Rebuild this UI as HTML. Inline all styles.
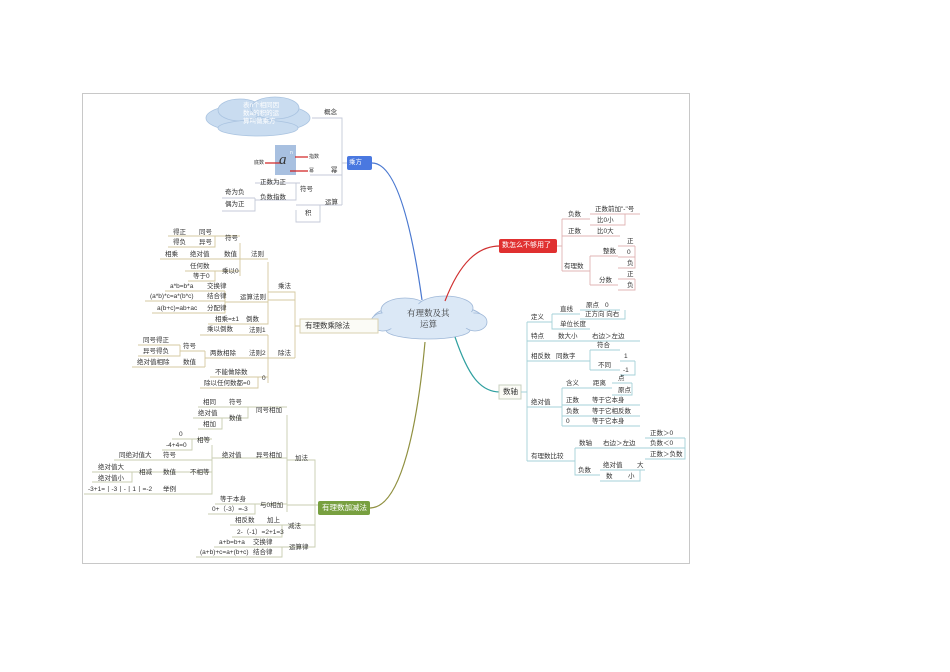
<!DOCTYPE html>
<html><head><meta charset="utf-8">
<style>
html,body{margin:0;padding:0;background:#fff;}
#w{position:relative;width:950px;height:672px;overflow:hidden;font-family:"Liberation Sans","Noto Sans CJK SC",sans-serif;font-size:6.5px;color:#333;}
.t{position:absolute;white-space:nowrap;line-height:8px;transform:translateY(-4px);}
svg{position:absolute;left:0;top:0;}
</style></head><body><div id="w">
<svg width="950" height="672">
<rect x="82.5" y="93.5" width="607" height="470" fill="none" stroke="#c8c8c8" stroke-width="1"/>
<g fill="#c9dcf0" stroke="#a9c3e0" stroke-width="0.8">
<ellipse cx="258" cy="118" rx="52" ry="15"/><ellipse cx="240" cy="110" rx="22" ry="11"/><ellipse cx="275" cy="108" rx="24" ry="11"/><ellipse cx="258" cy="128" rx="40" ry="8"/>
</g>
<g fill="#dbe8f6" stroke="#9fb8d8" stroke-width="0.8">
<ellipse cx="428" cy="319" rx="55" ry="16"/><ellipse cx="405" cy="310" rx="24" ry="12"/><ellipse cx="445" cy="308" rx="28" ry="12"/><ellipse cx="428" cy="330" rx="42" ry="9"/><ellipse cx="383" cy="322" rx="12" ry="9"/><ellipse cx="475" cy="322" rx="12" ry="9"/>
</g>
<g fill="#dbe8f6"><ellipse cx="428" cy="319" rx="50" ry="14"/><ellipse cx="405" cy="312" rx="22" ry="10"/><ellipse cx="445" cy="310" rx="26" ry="10"/></g>
<path d="M372,163 C400,163 415,250 422,300" fill="none" stroke="#4a78d0" stroke-width="1.2"/>
<path d="M445,301 C460,262 478,246 500,246" fill="none" stroke="#d03030" stroke-width="1.2"/>
<path d="M378,326 L372,327" fill="none" stroke="#d08030" stroke-width="1.2"/>
<path d="M455,337 C468,375 480,392 500,392" fill="none" stroke="#30a0a0" stroke-width="1.2"/>
<path d="M370,508 C402,508 418,420 425,342" fill="none" stroke="#909040" stroke-width="1.2"/>
<rect x="347" y="156" width="25" height="14" rx="2" fill="#4a78e0"/>
<rect x="275" y="145" width="21" height="30" fill="#a8c0e0"/>
<rect x="499" y="239" width="58" height="14" rx="2" fill="#e03030"/>
<rect x="300" y="319" width="78" height="14" fill="#fbfbf6" stroke="#d8d0b0"/>
<rect x="499" y="385" width="22" height="14" fill="#fbfbf6" stroke="#c8d0c0"/>
<rect x="318" y="501" width="52" height="14" rx="2" fill="#78a040"/>
<g stroke="#d02020" stroke-width="1.2"><line x1="265" y1="163" x2="280" y2="163"/><line x1="295" y1="157" x2="308" y2="157"/><line x1="290" y1="171" x2="308" y2="171"/></g>
<g stroke="#c4cad8" stroke-width="0.9" fill="none">
<path d="M312,118 H342 V205 M310,175 H342 M342,163 H347 M296,205 H342 M255,183 H300 M255,200 H296 V183 M222,198 H255 M222,211 H255 V198 M296,210 V222 H320 V205"/>
</g>
<g stroke="#d4c9a0" stroke-width="0.9" fill="none">
<path d="M168,236 H215 M168,247 H215 V236 H240 M160,259 H268 M185,271 H215 M188,281 H215 V271 H240 M268,262 V300 H295 M240,243 V262 M240,276 V262 M165,291 H225 M145,301 H225 M152,313 H225 V291 M225,302 H268 M208,324 H268 V262 M268,292 H295 V358 M295,326 H300 M200,335 H268 M138,345 H180 M138,356 H180 V345 M180,351 H205 M132,367 H205 M205,351 V367 M205,358 H268 M210,377 H258 M200,388 H258 V377 H268 M268,335 V383 M268,358 H295"/>
</g>
<g stroke="#c8ceb0" stroke-width="0.9" fill="none">
<path d="M198,407 H248 M193,418 H222 M198,429 H222 V418 H248 V407 H287 M287,415 V512 M172,439 H192 M162,450 H192 V439 H212 M114,460 H212 V445 M92,472 H132 M92,482 H132 V472 H212 M84,494 H212 V460 M212,458 H287 M287,460 H315 V505 M215,504 H255 M208,514 H255 V504 H287 M287,505 H318 M230,525 H282 M232,537 H282 V525 H315 M214,547 H282 M196,557 H282 V547 H315 V505"/>
</g>
<g stroke="#e0b4b4" stroke-width="0.9" fill="none">
<path d="M557,246 H562 V271 M562,219 H590 M590,214 H640 M590,225 H625 V214 M562,236 H620 M562,271 H590 M590,256 H618 M618,246 H635 M618,257 H635 M618,268 H635 V246 M590,285 H618 M618,279 H635 M618,290 H635 V279 M590,256 V285 M562,219 V246"/>
</g>
<g stroke="#a4d2d8" stroke-width="0.9" fill="none">
<path d="M521,392 H527 V461 M527,322 V392 M527,322 H552 M552,314 H580 M580,310 H620 M580,319 H625 V310 M552,314 V329 H590 M527,341 H640 M527,361 H590 M590,350 H620 M590,370 H620 M620,361 H635 M620,375 H635 V361 M590,350 V370 M527,407 H562 M562,388 H612 M612,383 H632 M612,395 H632 V383 M562,388 V426 M562,405 H640 M562,416 H640 M562,426 H640 M527,461 H575 M575,448 H645 M645,438 H685 M645,448 H685 M645,459 H685 V438 M575,448 V475 H600 M600,470 H645 M600,481 H640 V470"/>
</g>
</svg>
<div class="t" style="left:243px;top:106px;color:#fff">表n个相同因</div>
<div class="t" style="left:243px;top:114px;color:#fff">数a的积的运</div>
<div class="t" style="left:243px;top:122px;color:#fff">算叫做乘方</div>
<div class="t" style="left:324px;top:113px">概念</div>
<div class="t" style="left:279px;top:160px;font-size:15px;font-style:italic;font-family:'Liberation Serif',serif">a</div>
<div class="t" style="left:290px;top:153px;font-size:5px;color:#fff">n</div>
<div class="t" style="left:254px;top:163px;font-size:5px">底数</div>
<div class="t" style="left:309px;top:157px;font-size:5px">指数</div>
<div class="t" style="left:309px;top:171px;font-size:5px">幂</div>
<div class="t" style="left:331px;top:171px">幂</div>
<div class="t" style="left:349px;top:163px;color:#fff">乘方</div>
<div class="t" style="left:260px;top:183px">正数为正</div>
<div class="t" style="left:300px;top:190px">符号</div>
<div class="t" style="left:225px;top:193px">奇为负</div>
<div class="t" style="left:260px;top:198px">负数指数</div>
<div class="t" style="left:225px;top:205px">偶为正</div>
<div class="t" style="left:325px;top:203px">运算</div>
<div class="t" style="left:305px;top:214px">积</div>
<div class="t" style="left:173px;top:233px">得正</div>
<div class="t" style="left:199px;top:233px">同号</div>
<div class="t" style="left:225px;top:239px">符号</div>
<div class="t" style="left:173px;top:243px">得负</div>
<div class="t" style="left:199px;top:243px">异号</div>
<div class="t" style="left:165px;top:255px">相乘</div>
<div class="t" style="left:190px;top:255px">绝对值</div>
<div class="t" style="left:224px;top:255px">数值</div>
<div class="t" style="left:251px;top:255px">法则</div>
<div class="t" style="left:190px;top:267px">任何数</div>
<div class="t" style="left:222px;top:272px">乘以0</div>
<div class="t" style="left:193px;top:277px">等于0</div>
<div class="t" style="left:278px;top:287px">乘法</div>
<div class="t" style="left:170px;top:287px">a*b=b*a</div>
<div class="t" style="left:207px;top:287px">交换律</div>
<div class="t" style="left:150px;top:297px">(a*b)*c=a*(b*c)</div>
<div class="t" style="left:207px;top:297px">结合律</div>
<div class="t" style="left:240px;top:298px">运算法则</div>
<div class="t" style="left:157px;top:309px">a(b+c)=ab+ac</div>
<div class="t" style="left:207px;top:309px">分配律</div>
<div class="t" style="left:215px;top:320px">相乘=±1</div>
<div class="t" style="left:246px;top:320px">倒数</div>
<div class="t" style="left:305px;top:326px;font-size:7.5px">有理数乘除法</div>
<div class="t" style="left:207px;top:330px">乘以倒数</div>
<div class="t" style="left:249px;top:331px">法则1</div>
<div class="t" style="left:143px;top:341px">同号得正</div>
<div class="t" style="left:183px;top:347px">符号</div>
<div class="t" style="left:143px;top:352px">异号得负</div>
<div class="t" style="left:210px;top:354px">两数相除</div>
<div class="t" style="left:249px;top:354px">法则2</div>
<div class="t" style="left:278px;top:354px">除法</div>
<div class="t" style="left:137px;top:363px">绝对值相除</div>
<div class="t" style="left:183px;top:363px">数值</div>
<div class="t" style="left:215px;top:373px">不能做除数</div>
<div class="t" style="left:262px;top:379px">0</div>
<div class="t" style="left:204px;top:384px">除以任何数都=0</div>
<div class="t" style="left:203px;top:403px">相同</div>
<div class="t" style="left:229px;top:403px">符号</div>
<div class="t" style="left:256px;top:411px">同号相加</div>
<div class="t" style="left:198px;top:414px">绝对值</div>
<div class="t" style="left:229px;top:419px">数值</div>
<div class="t" style="left:203px;top:425px">相加</div>
<div class="t" style="left:179px;top:435px">0</div>
<div class="t" style="left:197px;top:441px">相等</div>
<div class="t" style="left:166px;top:446px">-4+4=0</div>
<div class="t" style="left:222px;top:456px">绝对值</div>
<div class="t" style="left:256px;top:456px">异号相加</div>
<div class="t" style="left:295px;top:459px">加法</div>
<div class="t" style="left:119px;top:456px">同绝对值大</div>
<div class="t" style="left:163px;top:456px">符号</div>
<div class="t" style="left:98px;top:468px">绝对值大</div>
<div class="t" style="left:139px;top:473px">相减</div>
<div class="t" style="left:163px;top:473px">数值</div>
<div class="t" style="left:190px;top:473px">不相等</div>
<div class="t" style="left:98px;top:479px">绝对值小</div>
<div class="t" style="left:88px;top:490px">-3+1=丨-3丨-丨1丨=-2</div>
<div class="t" style="left:163px;top:490px">举例</div>
<div class="t" style="left:220px;top:500px">等于本身</div>
<div class="t" style="left:260px;top:506px">与0相加</div>
<div class="t" style="left:212px;top:510px">0+（-3）=-3</div>
<div class="t" style="left:322px;top:508px;color:#fff;font-size:7.5px">有理数加减法</div>
<div class="t" style="left:235px;top:521px">相反数</div>
<div class="t" style="left:267px;top:521px">加上</div>
<div class="t" style="left:288px;top:527px">减法</div>
<div class="t" style="left:237px;top:533px">2-（-1）=2+1=3</div>
<div class="t" style="left:219px;top:543px">a+b=b+a</div>
<div class="t" style="left:253px;top:543px">交换律</div>
<div class="t" style="left:289px;top:548px">运算律</div>
<div class="t" style="left:200px;top:553px">(a+b)+c=a+(b+c)</div>
<div class="t" style="left:253px;top:553px">结合律</div>
<div class="t" style="left:407px;top:313px;font-size:8.5px;font-family:'Liberation Serif','Noto Serif CJK SC',serif">有理数及其</div>
<div class="t" style="left:420px;top:324px;font-size:8.5px;font-family:'Liberation Serif','Noto Serif CJK SC',serif">运算</div>
<div class="t" style="left:502px;top:246px;color:#fff;font-size:7px">数怎么不够用了</div>
<div class="t" style="left:568px;top:215px">负数</div>
<div class="t" style="left:595px;top:210px">正数前加"-"号</div>
<div class="t" style="left:597px;top:221px">比0小</div>
<div class="t" style="left:568px;top:232px">正数</div>
<div class="t" style="left:597px;top:232px">比0大</div>
<div class="t" style="left:603px;top:252px">整数</div>
<div class="t" style="left:627px;top:242px">正</div>
<div class="t" style="left:627px;top:253px">0</div>
<div class="t" style="left:627px;top:264px">负</div>
<div class="t" style="left:564px;top:267px">有理数</div>
<div class="t" style="left:599px;top:281px">分数</div>
<div class="t" style="left:627px;top:275px">正</div>
<div class="t" style="left:627px;top:286px">负</div>
<div class="t" style="left:586px;top:306px">原点</div>
<div class="t" style="left:605px;top:306px">0</div>
<div class="t" style="left:560px;top:310px">直线</div>
<div class="t" style="left:531px;top:318px">定义</div>
<div class="t" style="left:585px;top:315px">正方向 向右</div>
<div class="t" style="left:560px;top:325px">单位长度</div>
<div class="t" style="left:531px;top:337px">特点</div>
<div class="t" style="left:558px;top:337px">数大小</div>
<div class="t" style="left:592px;top:337px">右边＞左边</div>
<div class="t" style="left:597px;top:346px">符合</div>
<div class="t" style="left:531px;top:357px">相反数</div>
<div class="t" style="left:556px;top:357px">同数字</div>
<div class="t" style="left:624px;top:357px">1</div>
<div class="t" style="left:598px;top:366px">不同</div>
<div class="t" style="left:623px;top:371px">-1</div>
<div class="t" style="left:618px;top:379px">点</div>
<div class="t" style="left:566px;top:384px">含义</div>
<div class="t" style="left:593px;top:384px">距离</div>
<div class="t" style="left:503px;top:392px;font-size:7.5px">数轴</div>
<div class="t" style="left:618px;top:391px">原点</div>
<div class="t" style="left:531px;top:403px">绝对值</div>
<div class="t" style="left:566px;top:401px">正数</div>
<div class="t" style="left:592px;top:401px">等于它本身</div>
<div class="t" style="left:566px;top:412px">负数</div>
<div class="t" style="left:592px;top:412px">等于它相反数</div>
<div class="t" style="left:566px;top:422px">0</div>
<div class="t" style="left:592px;top:422px">等于它本身</div>
<div class="t" style="left:650px;top:434px">正数＞0</div>
<div class="t" style="left:579px;top:444px">数轴</div>
<div class="t" style="left:603px;top:444px">右边＞左边</div>
<div class="t" style="left:650px;top:444px">负数＜0</div>
<div class="t" style="left:531px;top:457px">有理数比较</div>
<div class="t" style="left:650px;top:455px">正数＞负数</div>
<div class="t" style="left:603px;top:466px">绝对值</div>
<div class="t" style="left:637px;top:466px">大</div>
<div class="t" style="left:578px;top:471px">负数</div>
<div class="t" style="left:606px;top:477px">数</div>
<div class="t" style="left:628px;top:477px">小</div>
</div></body></html>
